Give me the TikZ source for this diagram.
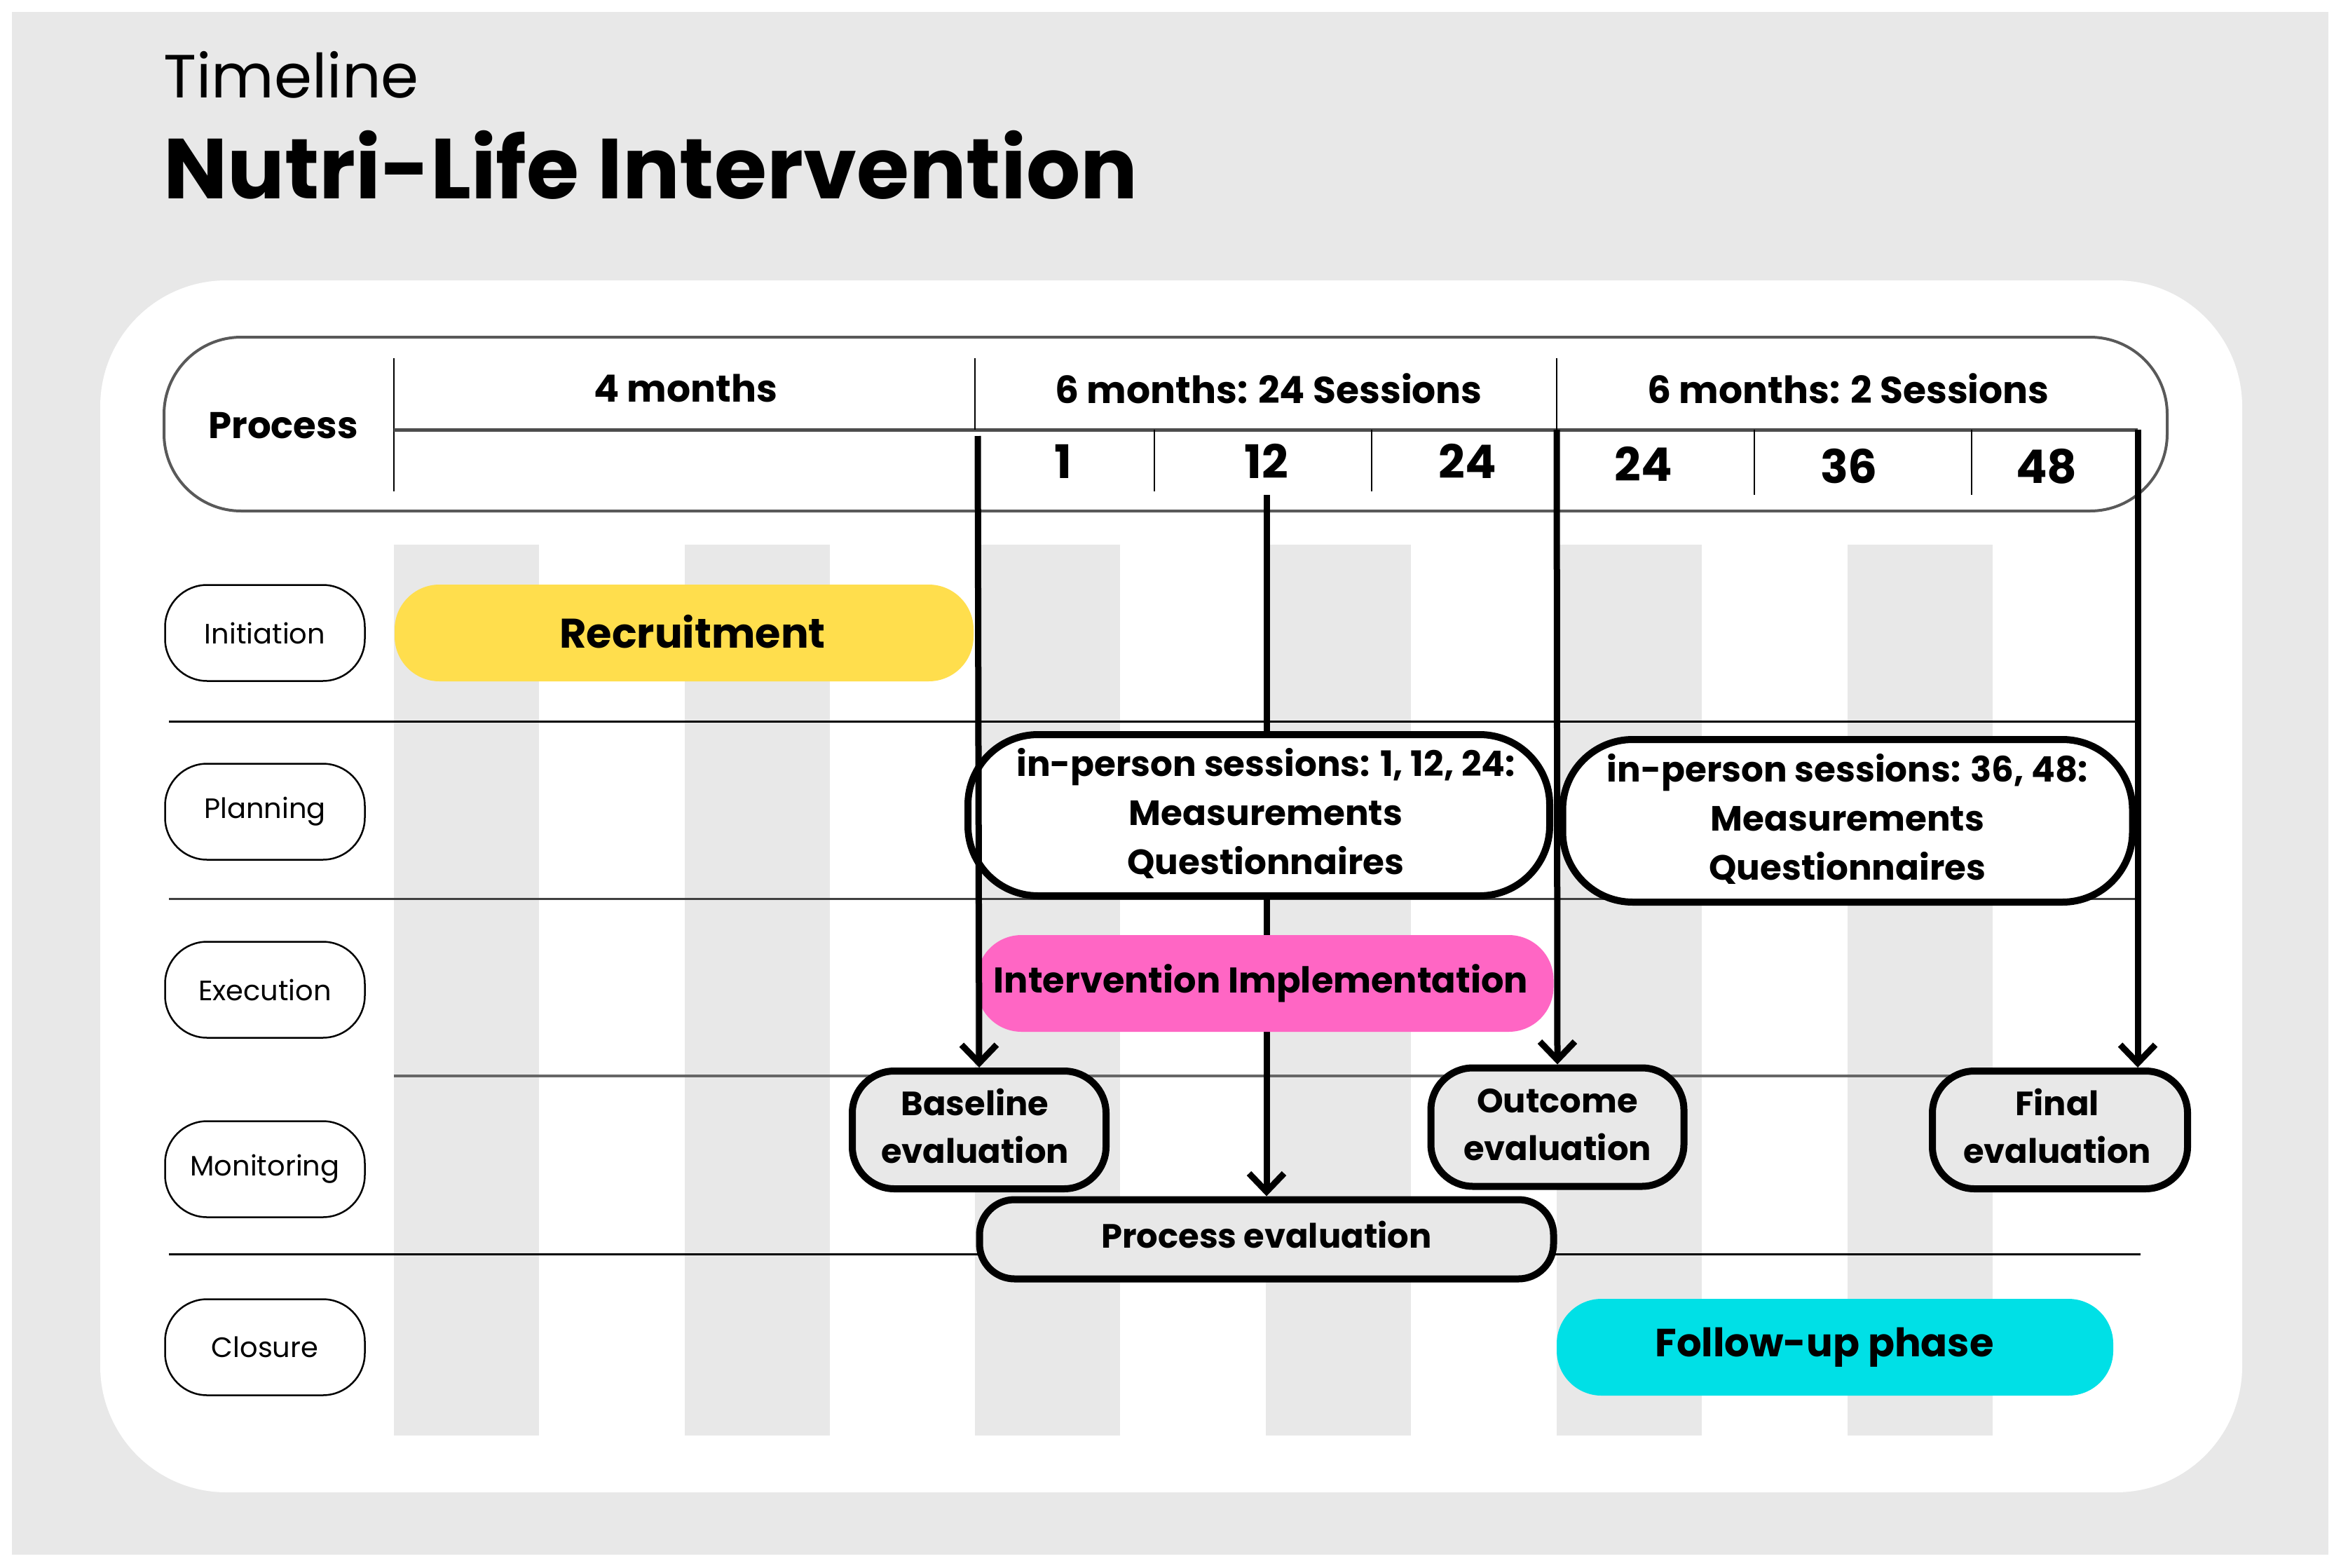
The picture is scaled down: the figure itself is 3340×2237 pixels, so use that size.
\documentclass[tikz,border=0pt]{standalone}
\usepackage{fontspec}
\setmainfont{Poppins}
\usetikzlibrary{arrows.meta}
\definecolor{bggrey}{HTML}{E8E8E8}
\definecolor{yel}{HTML}{FFDE4D}
\definecolor{pnk}{HTML}{FF66C4}
\definecolor{cyn}{HTML}{00E0E6}
\pgfdeclarelayer{back}
\pgfdeclarelayer{mid}
\pgfdeclarelayer{front}
\pgfsetlayers{back,mid,main,front}
\newcommand\fsz[2]{\fontsize{#1}{#2}\selectfont}
\begin{document}
\begin{tikzpicture}[x=1pt,y=-1pt,
  lane/.style={draw=black,line width=2.5pt,fill=white,rounded corners=60pt,minimum width=285pt,minimum height=137pt,inner sep=0pt,font=\fsz{40}{48}},
  bar/.style={minimum height=138pt,rounded corners=64pt,inner sep=0pt,font=\bfseries\fsz{59}{70}},
  plan/.style={draw=black,line width=10pt,fill=white,rounded corners=100pt,inner sep=0pt,align=center,font=\bfseries\fsz{50}{70}},
  evalb/.style={draw=black,line width=10pt,fill=bggrey,rounded corners=60pt,inner sep=0pt,align=center,font=\bfseries\fsz{48}{68}},
  hd/.style={inner sep=0pt,font=\bfseries\fsz{53.5}{60}},
  num/.style={inner sep=0pt,font=\bfseries\fsz{66}{72}},
  arr/.style={line width=9pt,-{Straight Barb[length=26pt,width=50pt,line width=9pt]}},
  thinl/.style={line width=2.5pt,draw=black}
]
\useasboundingbox (0,0) rectangle (3340,2237);
\begin{pgfonlayer}{back}
\fill[white] (0,0) rectangle (3340,2237);
\fill[bggrey] (17,17) rectangle (3322,2218);
\fill[white, rounded corners=180pt] (143,400) rectangle (3199,2129);
\foreach \x in {562,977,1391,1806,2221,2636} \fill[bggrey] (\x,777) rectangle ++(207,1271);
\node[draw=black!65, line width=4pt, rounded corners=110pt, minimum width=2858pt, minimum height=248pt, inner sep=0pt] (hdr) at (1663,605) {};
\draw[thinl] (562,511) -- (562,701);
\draw[line width=5pt, draw=black!70] (562,613) -- (3050,613);
\draw[thinl] (1391,511) -- (1391,613);
\draw[thinl] (2221,511) -- (2221,613);
\draw[thinl] (1647,613) -- (1647,701);
\draw[thinl] (1957,613) -- (1957,701);
\draw[thinl] (2503,613) -- (2503,706);
\draw[thinl] (2813,613) -- (2813,706);
\draw[line width=3pt, draw=black] (241,1029) -- (3050,1029);
\draw[line width=3pt, draw=black!75] (241,1282) -- (3050,1282);
\draw[line width=4pt, draw=black!60] (562,1535) -- (3050,1535);
\draw[line width=3pt, draw=black] (241,1789) -- (3054,1789);
\end{pgfonlayer}
% titles
\node[anchor=base west, inner sep=0pt, font=\fsz{87}{95}] (t1) at (233,140) {Timeline};
\node[anchor=base west, inner sep=0pt, font=\bfseries\fsz{121.5}{130}] (t2) at (233,283) {Nutri-Life Intervention};
% header texts
\node[hd, font=\bfseries\fsz{53}{60}] (h0) at (404,607) {Process};
\node[hd] (h1) at (978,554) {4 months};
\node[hd] (h2) at (1810,554) {6 months: 24 Sessions};
\node[hd] (h3) at (2637,554) {6 months: 2 Sessions};
\node[num] (n1) at (1517,658) {1};
\node[num] (n2) at (1807,658) {12};
\node[num] (n3) at (2094,658) {24};
\node[num] (n4) at (2345,662) {24};
\node[num] (n5) at (2638,665) {36};
\node[num] (n6) at (2920,665) {48};
% lanes
\node[lane] (ini) at (378,903) {Initiation};
\node[lane] (pla) at (378,1158) {Planning};
\node[lane] (exe) at (378,1412) {Execution};
\node[lane] (mon) at (378,1668) {Monitoring};
\node[lane] (clo) at (378,1922) {Closure};
% bars
\node[bar, fill=yel, minimum width=826pt] (rec) at (976,903) {\hspace*{24pt}\raisebox{4pt}{Recruitment}};
\node[bar, fill=pnk, minimum width=823pt, font=\bfseries\fsz{51}{60}] (imp) at (1805,1403) {\hspace*{-12pt}Intervention Implementation};
\node[bar, fill=cyn, minimum width=794pt, font=\bfseries\fsz{56}{66}] (fol) at (2618,1922) {\hspace*{-30pt}\raisebox{4pt}{Follow-up phase}};
% planning boxes
\node[plan, minimum width=830pt, minimum height=230pt] (pl1) at (1796,1163) {\hspace*{20pt}\raisebox{8pt}{\begin{tabular}{@{}c@{}}in-person sessions: 1, 12, 24:\\Measurements\\Questionnaires\end{tabular}}};
\node[plan, minimum width=813pt, minimum height=232pt] (pl2) at (2636,1171) {\raisebox{6pt}{\begin{tabular}{@{}c@{}}in-person sessions: 36, 48:\\Measurements\\Questionnaires\end{tabular}}};
% evaluation boxes
\node[evalb, minimum width=362pt, minimum height=168pt] (base) at (1397,1612) {\hspace*{-12pt}\raisebox{6pt}{\begin{tabular}{@{}c@{}}Baseline\\evaluation\end{tabular}}};
\node[evalb, minimum width=361pt, minimum height=169pt] (outc) at (2222,1608) {\raisebox{7pt}{\begin{tabular}{@{}c@{}}Outcome\\evaluation\end{tabular}}};
\node[evalb, minimum width=364pt, minimum height=168pt] (fin) at (2939,1612) {\hspace*{-8pt}\raisebox{3pt}{\begin{tabular}{@{}c@{}}Final\\evaluation\end{tabular}}};
\node[evalb, minimum width=819pt, minimum height=113pt, rounded corners=50pt] (proc) at (1807,1768) {\raisebox{13pt}{Process evaluation}};
% arrows
\coordinate (a1s) at (1395,622);
\coordinate (a2s) at (1807,706);
\coordinate (a3s) at (2221,613);
\coordinate (a4s) at (3050,613);
\begin{pgfonlayer}{mid}
\draw[arr] (a2s) -- (proc.north);
\end{pgfonlayer}
\begin{pgfonlayer}{front}
\draw[arr] (a1s) -- (base.north);
\draw[arr] (a3s) -- (outc.north);
\draw[arr] (a4s) -- (a4s |- fin.north);
\end{pgfonlayer}
\end{tikzpicture}
\end{document}
